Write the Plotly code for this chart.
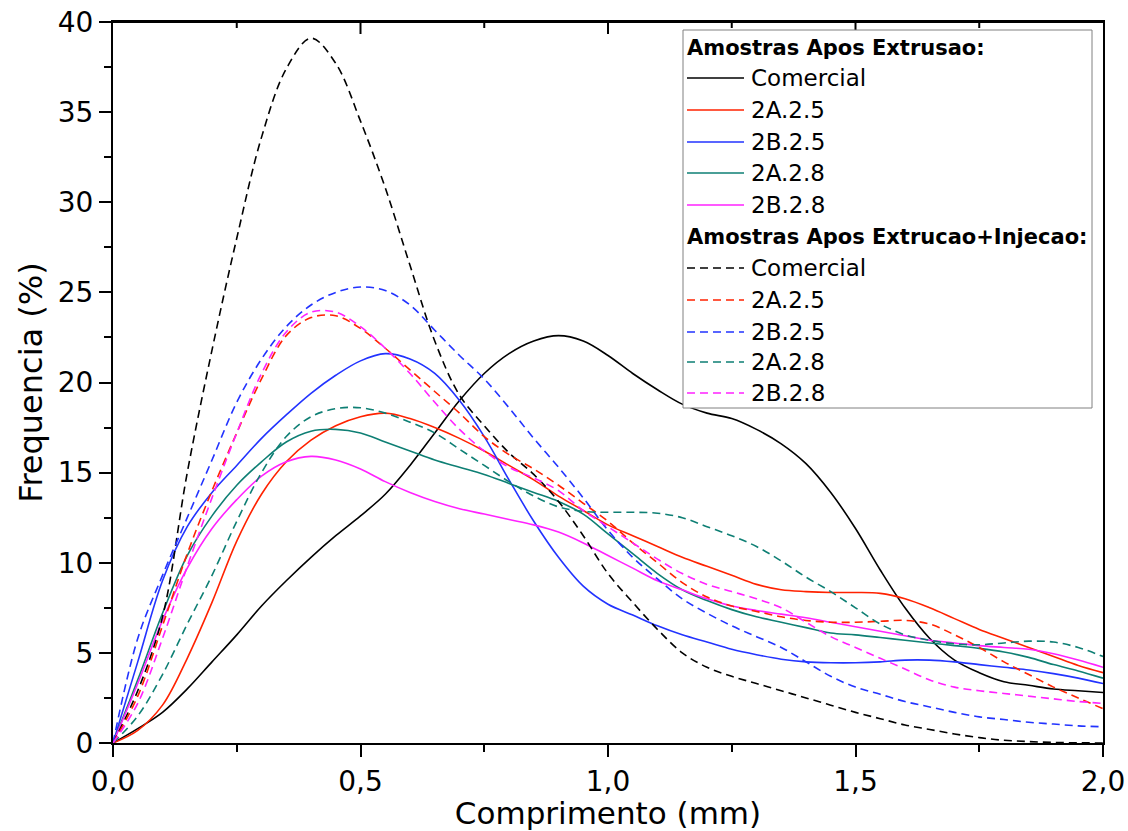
import plotly.graph_objects as go

comprimento = [round(i * 0.05, 2) for i in range(41)]

# Amostras Apos Extrusao (solid)
ext_comercial = [0, 0.8, 1.7, 3.0, 4.5, 6.0, 7.6, 9.0, 10.3, 11.5, 12.6, 13.8, 15.4, 17.2, 19.0, 20.5, 21.6, 22.3, 22.6, 22.3, 21.5,
                 20.5, 19.6, 18.8, 18.3, 18.0, 17.4, 16.6, 15.5, 13.9, 11.9, 9.6, 7.5, 5.8, 4.6, 3.9, 3.4, 3.2, 3.0, 2.9, 2.8]
ext_2a25 = [0, 0.7, 2.1, 4.7, 7.8, 11.2, 13.8, 15.6, 16.8, 17.6, 18.1, 18.3, 18.0, 17.5, 16.9, 16.2, 15.4, 14.6, 13.7, 12.9, 12.1,
            11.5, 10.9, 10.3, 9.8, 9.3, 8.8, 8.5, 8.4, 8.35, 8.35, 8.3, 8.0, 7.5, 6.9, 6.3, 5.8, 5.3, 4.8, 4.3, 3.9]
ext_2b25 = [0, 4.5, 9.0, 12.0, 13.9, 15.4, 16.9, 18.2, 19.4, 20.4, 21.2, 21.6, 21.3, 20.5, 19.0, 17.0, 14.6, 12.3, 10.3, 8.7, 7.7,
            7.1, 6.5, 6.0, 5.6, 5.2, 4.9, 4.65, 4.5, 4.45, 4.45, 4.5, 4.6, 4.6, 4.5, 4.35, 4.2, 4.05, 3.85, 3.6, 3.3]
ext_2a28 = [0, 3.5, 7.2, 10.4, 12.6, 14.3, 15.6, 16.7, 17.3, 17.4, 17.2, 16.7, 16.2, 15.7, 15.3, 14.9, 14.4, 13.9, 13.4, 12.7, 11.6,
            10.5, 9.4, 8.5, 7.9, 7.4, 7.0, 6.7, 6.4, 6.1, 6.0, 5.85, 5.7, 5.55, 5.4, 5.25, 5.05, 4.75, 4.35, 4.0, 3.6]
ext_2b28 = [0, 3.3, 6.8, 9.7, 11.9, 13.5, 14.8, 15.6, 15.9, 15.7, 15.2, 14.5, 13.9, 13.4, 13.0, 12.7, 12.4, 12.1, 11.7, 11.1, 10.4,
            9.7, 9.0, 8.5, 8.0, 7.6, 7.35, 7.15, 6.95, 6.7, 6.45, 6.2, 5.95, 5.7, 5.55, 5.4, 5.3, 5.2, 4.95, 4.6, 4.2]

# Amostras Apos Extrucao+Injecao (dashed)
inj_comercial = [0, 2.9, 7.0, 15.0, 21.8, 28.0, 33.6, 37.4, 39.1, 37.7, 34.5, 30.8, 26.5, 22.3, 19.3, 17.6, 16.1, 14.9, 13.4, 11.5, 9.4,
                 7.8, 6.3, 5.0, 4.2, 3.7, 3.3, 2.9, 2.5, 2.1, 1.7, 1.35, 1.0, 0.75, 0.5, 0.3, 0.15, 0.08, 0.03, 0.01, 0.0]
inj_2a25 = [0, 2.6, 6.5, 10.5, 14.0, 17.2, 20.2, 22.6, 23.6, 23.7, 23.0, 21.9, 20.7, 19.5, 18.3, 17.0, 16.0, 15.2, 14.3, 13.3, 12.3,
            11.1, 10.0, 8.9, 8.1, 7.6, 7.3, 7.0, 6.8, 6.7, 6.7, 6.75, 6.8, 6.6, 6.0, 5.3, 4.5, 3.8, 3.1, 2.5, 1.9]
inj_2b25 = [0, 5.8, 9.3, 12.5, 15.7, 18.9, 21.3, 23.1, 24.3, 25.0, 25.3, 25.1, 24.3, 22.9, 21.5, 20.2, 18.6, 16.9, 15.3, 13.6, 11.8,
            10.3, 9.1, 8.0, 7.2, 6.5, 5.9, 5.3, 4.5, 3.7, 3.1, 2.7, 2.3, 2.0, 1.7, 1.45, 1.3, 1.15, 1.05, 0.95, 0.9]
inj_2a28 = [0, 1.5, 3.8, 6.6, 9.3, 12.3, 15.0, 17.0, 18.1, 18.55, 18.6, 18.3, 17.8, 17.2, 16.3, 15.4, 14.5, 13.7, 13.1, 12.85, 12.8,
            12.8, 12.75, 12.5, 12.0, 11.5, 10.9, 10.1, 9.2, 8.4, 7.5, 6.6, 6.0, 5.7, 5.5, 5.45, 5.55, 5.65, 5.6, 5.3, 4.8]
inj_2b28 = [0, 2.2, 5.8, 9.8, 13.6, 17.2, 20.5, 22.8, 23.9, 23.9, 23.1, 21.9, 20.5, 18.9, 17.4, 16.2, 15.3, 14.7, 14.0, 12.9, 12.0,
            11.1, 10.2, 9.4, 8.8, 8.4, 8.0, 7.5, 6.7, 5.9, 5.3, 4.7, 4.1, 3.5, 3.1, 2.9, 2.75, 2.6, 2.45, 2.3, 2.2]

names = ["Comercial", "2A.2.5", "2B.2.5", "2A.2.8", "2B.2.8"]
colors = ["#000000", "#FF2200", "#2233FF", "#0E7F74", "#FF22FF"]
ext_series = [ext_comercial, ext_2a25, ext_2b25, ext_2a28, ext_2b28]
inj_series = [inj_comercial, inj_2a25, inj_2b25, inj_2a28, inj_2b28]
group_titles = ["Amostras Apos Extrusao:", "Amostras Apos Extrucao+Injecao:"]

# top-axis tick values (inward ticks on the upper frame)
top_major_ticks = [0.5, 1.0, 1.5]
top_minor_ticks = [0.25, 0.75, 1.25, 1.75]

FONT = "DejaVu Sans, Liberation Sans, Arial, sans-serif"
DASH = "8px,5px"

W, H = 1128, 831
SL, SR, ST, SB = 113, 1103, 22, 743          # plot area in pixels
ML, MR, MT, MB = SL, W - SR, ST, H - SB
PW, PH = SR - SL, SB - ST


def px(x):
    return (x - SL) / PW


def py(y):
    return (SB - y) / PH


fig = go.Figure()
for n, c, ys in zip(names, colors, ext_series):
    fig.add_trace(go.Scatter(x=comprimento, y=ys, name=n, mode="lines", showlegend=False,
                             line=dict(color=c, width=1.6, shape="spline", smoothing=1.0)))
for n, c, ys in zip(names, colors, inj_series):
    fig.add_trace(go.Scatter(x=comprimento, y=ys, name=n, mode="lines", showlegend=False,
                             line=dict(color=c, width=1.6, dash=DASH, shape="spline", smoothing=1.0)))

shapes = []
# upper frame line and inward ticks
shapes.append(dict(type="line", xref="paper", yref="paper", x0=0, x1=1, y0=1, y1=1,
                   line=dict(color="black", width=2), layer="above"))
for t in top_major_ticks:
    shapes.append(dict(type="line", xref="x", yref="paper", x0=t, x1=t, y0=1, y1=1 - 12 / PH,
                       line=dict(color="black", width=2), layer="above"))
for t in top_minor_ticks:
    shapes.append(dict(type="line", xref="x", yref="paper", x0=t, x1=t, y0=1, y1=1 - 6 / PH,
                       line=dict(color="black", width=2), layer="above"))

# ---- legend drawn as a box with sample lines and text ----
shapes.append(dict(type="rect", xref="paper", yref="paper",
                   x0=px(683), x1=px(1092), y0=py(408), y1=py(30),
                   fillcolor="white", line=dict(color="#808080", width=1), layer="above"))
annotations = []
rows_y = [48, 78, 110, 142, 173, 205, 237, 268, 300, 332, 362, 393]
r = 0
for g, dash in enumerate(["solid", DASH]):
    annotations.append(dict(xref="paper", yref="paper", x=px(685), y=py(rows_y[r]),
                            xanchor="left", yanchor="middle", showarrow=False,
                            text="<b>" + group_titles[g] + "</b>",
                            font=dict(size=21, family=FONT, color="black")))
    r += 1
    for n, c in zip(names, colors):
        yy = py(rows_y[r])
        shapes.append(dict(type="line", xref="paper", yref="paper",
                           x0=px(687), x1=px(744), y0=yy, y1=yy,
                           line=dict(color=c, width=1.6, dash=dash), layer="above"))
        annotations.append(dict(xref="paper", yref="paper", x=px(749), y=yy,
                                xanchor="left", yanchor="middle", showarrow=False,
                                text=n, font=dict(size=23, family=FONT, color="black")))
        r += 1

fig.update_layout(
    width=W, height=H,
    margin=dict(l=ML, r=MR, t=MT, b=MB, autoexpand=False),
    paper_bgcolor="white", plot_bgcolor="white",
    separators=",.",
    font=dict(family=FONT, color="black"),
    showlegend=False,
    shapes=shapes,
    annotations=annotations,
    xaxis=dict(
        range=[0, 2], dtick=0.5, tick0=0, tickformat=".1f", automargin=False,
        ticklabeloverflow="allow",
        showgrid=False, zeroline=False,
        showline=True, linecolor="black", linewidth=2, mirror=True,
        ticks="outside", ticklen=12, tickwidth=2, tickcolor="black",
        minor=dict(ticks="outside", dtick=0.25, ticklen=7, tickwidth=2, tickcolor="black"),
        tickfont=dict(size=28, family=FONT),
        title=dict(text="Comprimento (mm)", font=dict(size=31, family=FONT), standoff=4),
    ),
    yaxis=dict(
        range=[0, 40], dtick=5, tick0=0, automargin=False,
        ticklabeloverflow="allow",
        showgrid=False, zeroline=False,
        showline=True, linecolor="black", linewidth=2, mirror=True,
        ticks="outside", ticklen=12, tickwidth=2, tickcolor="black",
        minor=dict(ticks="outside", dtick=2.5, ticklen=7, tickwidth=2, tickcolor="black"),
        tickfont=dict(size=28, family=FONT),
        title=dict(text="Frequencia (%)", font=dict(size=32, family=FONT), standoff=6),
    ),
)

fig.write_html("out.html", config={"displayModeBar": False},
               post_script="document.body.style.margin='0px';document.body.style.overflow='hidden';")
